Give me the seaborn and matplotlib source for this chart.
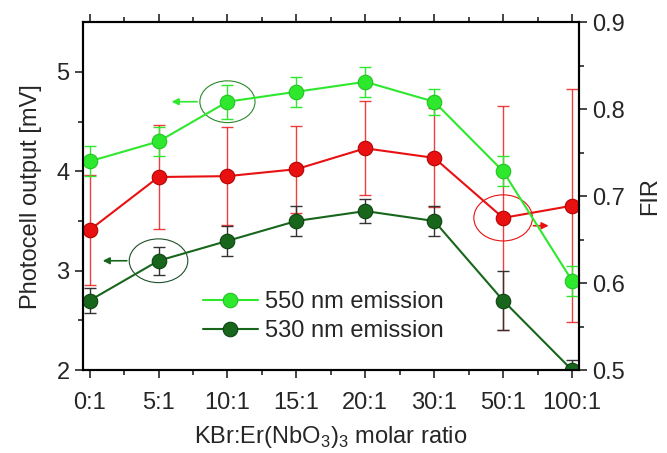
import numpy as np
import pandas as pd
import matplotlib
matplotlib.use('Agg')
import matplotlib.pyplot as plt
import seaborn as sns
from matplotlib.patches import Ellipse

# dados
razoes = ['0:1', '5:1', '10:1', '15:1', '20:1', '30:1', '50:1', '100:1']
em550 = [4.1, 4.3, 4.7, 4.8, 4.9, 4.7, 4.0, 2.9]
err550 = [0.15, 0.15, 0.17, 0.15, 0.15, 0.13, 0.15, 0.15]
em530 = [2.7, 3.1, 3.3, 3.5, 3.6, 3.5, 2.7, 2.0]
err530 = [0.13, 0.14, 0.15, 0.15, 0.12, 0.15, 0.3, 0.1]
fir = [0.661, 0.722, 0.723, 0.731, 0.755, 0.744, 0.675, 0.689]
err_fir = [0.063, 0.06, 0.056, 0.05, 0.054, 0.057, 0.129, 0.134]

verde = '#2ee82e'
verde_esc = '#17661c'
vermelho = '#e81010'
fs = 17

df = pd.DataFrame({'Razao': razoes, 'pos': np.arange(len(razoes)),
                   '550': em550, '530': em530, 'FIR': fir})

sns.set_style("white")
plt.rcParams['font.family'] = ['Liberation Sans', 'DejaVu Sans']
plt.rcParams['mathtext.fontset'] = 'custom'
plt.rcParams['mathtext.rm'] = 'Liberation Sans'

fig = plt.figure(figsize=(6.67, 4.53), dpi=100)
ax = fig.add_axes([0.124, 0.183, 0.744, 0.768])
ax2 = ax.twinx()

# FIR (eixo direito)
ax2.errorbar(df['pos'], df['FIR'], yerr=err_fir, fmt='none', ecolor=vermelho,
             elinewidth=1, capsize=4, alpha=0.8, zorder=1)
sns.lineplot(data=df, x='pos', y='FIR', ax=ax2, color=vermelho, lw=1.5,
             marker='o', markersize=10.5, markeredgecolor='#b00000', zorder=2)

# emissoes (eixo esquerdo)
ax.errorbar(df['pos'], df['550'], yerr=err550, fmt='none', ecolor=verde,
            elinewidth=1, capsize=4, zorder=1)
ax.errorbar(df['pos'], df['530'], yerr=err530, fmt='none', ecolor='#333333',
            elinewidth=1, capsize=4, zorder=1)
sns.lineplot(data=df, x='pos', y='550', ax=ax, color=verde, lw=1.5, marker='o',
             markersize=10.5, markeredgecolor='#20c020', label='550 nm emission')
sns.lineplot(data=df, x='pos', y='530', ax=ax, color=verde_esc, lw=1.5, marker='o',
             markersize=10.5, markeredgecolor='#0b400e', label='530 nm emission')

ax.set_zorder(ax2.get_zorder() + 1)
ax.patch.set_visible(False)

ax.set_xlim(-0.1, 7.1)
ax.set_ylim(2, 5.5)
ax2.set_ylim(0.5, 0.9)
ax.set_xticks(df['pos'])
ax.set_xticklabels(razoes)
ax.set_xticks(np.arange(0.5, 7, 1), minor=True)
ax.set_yticks([2, 3, 4, 5])
ax.set_yticks([2.5, 3.5, 4.5], minor=True)
ax2.set_yticks([0.5, 0.6, 0.7, 0.8, 0.9])
ax2.set_yticklabels(['0.5', '0.6', '0.7', '0.8', '0.9'])
ax2.set_yticks([0.55, 0.65, 0.75, 0.85], minor=True)

ax.tick_params(axis='both', which='both', direction='out', labelsize=fs, top=True,
               left=True, bottom=True, width=1.2)
ax.tick_params(which='major', length=6)
ax.tick_params(which='minor', length=3.5)
ax.tick_params(axis='x', which='major', pad=10)
ax2.tick_params(axis='y', which='both', direction='out', labelsize=fs, right=True, width=1.2)
ax2.tick_params(which='major', length=6)
ax2.tick_params(which='minor', length=3.5)

for a in (ax, ax2):
    for s in a.spines.values():
        s.set_linewidth(1.5)
        s.set_color('black')

ax.set_xlabel(r'KBr:Er(NbO$_3$)$_3$ molar ratio', fontsize=fs, labelpad=7)
ax.set_ylabel('Photocell output [mV]', fontsize=fs, labelpad=10)
ax2.set_ylabel('FIR', fontsize=fs, labelpad=10)

ax.legend(loc='lower left', bbox_to_anchor=(0.2, 0.02), frameon=False,
          fontsize=fs, handlelength=2.3, handletextpad=0.3, labelspacing=0.3)

# elipses e setas indicando o eixo de cada serie
ax.add_patch(Ellipse((2, 4.7), 0.8, 0.42, fill=False, ec='#2a8a2a', lw=0.8))
ax.annotate('', xy=(1.15, 4.7), xytext=(1.6, 4.7),
            arrowprops=dict(arrowstyle='-|>', color=verde, lw=1.2))
ax.add_patch(Ellipse((1, 3.1), 0.85, 0.44, fill=False, ec='#1e4f2a', lw=0.8))
ax.annotate('', xy=(0.15, 3.1), xytext=(0.58, 3.1),
            arrowprops=dict(arrowstyle='-|>', color=verde_esc, lw=1.2))
ax2.add_patch(Ellipse((6, 0.675), 0.85, 0.053, fill=False, ec=vermelho, lw=0.8))
ax2.annotate('', xy=(6.7, 0.666), xytext=(6.4, 0.666),
             arrowprops=dict(arrowstyle='-|>', color=vermelho, lw=1.2))

plt.savefig('out.png', dpi=100)
